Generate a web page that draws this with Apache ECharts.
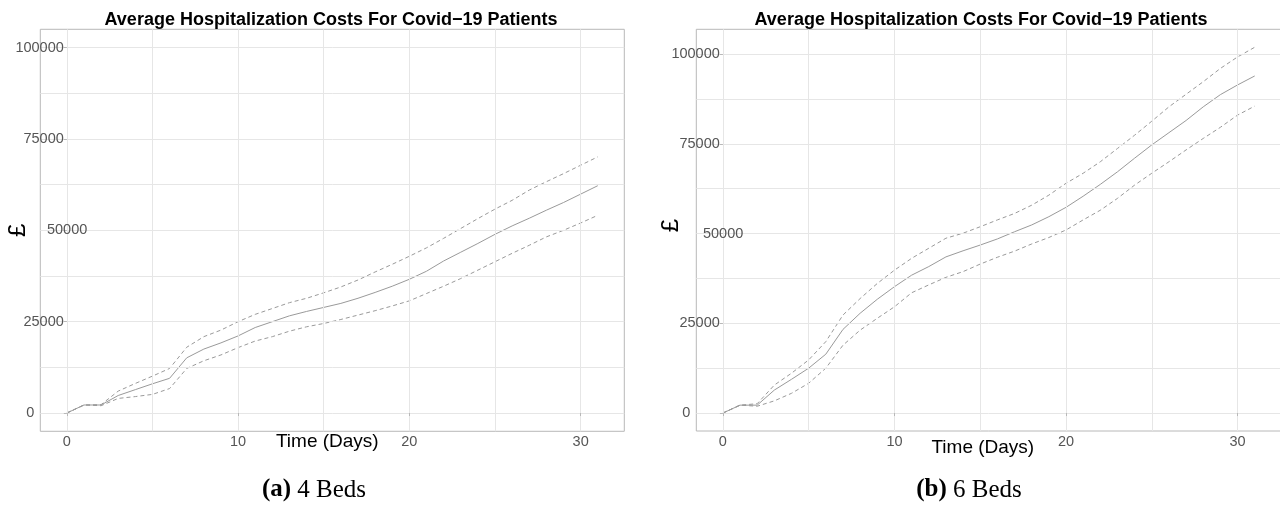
<!DOCTYPE html>
<html>
<head>
<meta charset="utf-8">
<script src="https://cdn.jsdelivr.net/npm/echarts@6/dist/echarts.min.js"></script>
<style>
  html, body { margin: 0; padding: 0; background: #ffffff; }
  #chart { width: 1280px; height: 506px; }
</style>
</head>
<body>
<div id="chart"></div>
<script>
// Simulated average hospitalization cost (GBP) by day, with confidence bands
const days = [0, 1, 2, 3, 4, 5, 6, 7, 8, 9, 10, 11, 12, 13, 14, 15, 16, 17, 18, 19, 20, 21, 22, 23, 24, 25, 26, 27, 28, 29, 30, 31];

const beds4Mean  = [0, 2200, 2200, 4800, 6400, 8000, 9500, 15100, 17500, 19200, 21100, 23400, 25000, 26600, 27800, 28900, 30000, 31400, 33000, 34700, 36600, 38800, 41600, 44000, 46400, 48900, 51200, 53300, 55500, 57600, 59900, 62200];
const beds4Upper = [0, 2200, 2300, 6000, 8100, 10100, 12200, 18000, 20900, 22700, 25000, 27000, 28600, 30200, 31400, 32900, 34500, 36400, 38600, 40700, 42900, 45200, 47800, 50500, 53200, 55800, 58200, 61000, 63300, 65500, 67800, 70100];
const beds4Lower = [0, 2200, 2000, 4000, 4500, 5100, 6700, 12200, 14300, 15900, 17900, 19700, 20900, 22400, 23600, 24500, 25600, 26800, 28000, 29300, 30700, 32700, 34700, 36800, 39100, 41400, 43700, 45900, 48200, 50000, 52000, 54100];

const beds6Mean  = [0, 2200, 2200, 6400, 9400, 12500, 16400, 23300, 27800, 31700, 35200, 38400, 40800, 43500, 45200, 46800, 48500, 50500, 52400, 54700, 57300, 60400, 63700, 67200, 71000, 74700, 78100, 81500, 85300, 88700, 91400, 93900];
const beds6Upper = [0, 2200, 2600, 7800, 11100, 14800, 19900, 27300, 31900, 36100, 39800, 43100, 45900, 48700, 50100, 51900, 53800, 55600, 57900, 60700, 64000, 66800, 70000, 73700, 77400, 81300, 85300, 88800, 92300, 96000, 99200, 101900];
const beds6Lower = [0, 2200, 1900, 3400, 5500, 8300, 12500, 18900, 23100, 26400, 29600, 33500, 35700, 37800, 39400, 41500, 43400, 45100, 47100, 48900, 51000, 53800, 56500, 59800, 63500, 66800, 70000, 73300, 76500, 79600, 83000, 85500];

const xTicks = [0, 10, 20, 30];
const yTicks = [0, 25000, 50000, 75000, 100000];
const xGridValues = [0, 5, 10, 15, 20, 25, 30];
const yGridValues = [0, 12500, 25000, 37500, 50000, 62500, 75000, 87500, 100000];

const titleText = 'Average Hospitalization Costs For Covid\u221219 Patients';
const xName = 'Time (Days)';
const yName = '\u00a3';
const captions = [['(a)', '4 Beds'], ['(b)', '6 Beds']];

const SANS = '"Liberation Sans", Arial, Helvetica, sans-serif';
const SERIF = '"Liberation Serif", "Times New Roman", serif';
const LINE = '#9a9a9a';
const GRID = '#e6e6e6';
const BORDER = '#b8b8b8';
const TICK_TEXT = '#555555';

const panels = [
  { left: 40.3, top: 29.3, width: 584, height: 402, yMin: -5000, yMax: 105000, mean: beds4Mean, upper: beds4Upper, lower: beds4Lower, xNameGap: 1, xNamePad: [0, 10, 0, 0], yNameGap: 10, yNamePad: [0, 0, 0, 0], cx: 331, capX: 314 },
  { left: 696.3, top: 29.3, width: 585, height: 401.7, yMin: -5000, yMax: 106900, mean: beds6Mean, upper: beds6Upper, lower: beds6Lower, xNameGap: 7, xNamePad: [0, 12, 0, 0], yNameGap: 13, yNamePad: [0, 0, 0, 9], cx: 981, capX: 969 }
];

const pairs = (vals) => days.map((d, i) => [d, vals[i]]);

const grid = [], xAxis = [], yAxis = [], series = [], graphic = [];

panels.forEach((p, k) => {
  grid.push({
    left: p.left, top: p.top, width: p.width, height: p.height,
    show: true, borderColor: BORDER, borderWidth: 1, backgroundColor: 'transparent',
    containLabel: false, outerBoundsMode: 'none'
  });
  xAxis.push({
    type: 'value', gridIndex: k, min: -1.55, max: 32.55, z: 5,
    splitLine: { show: false },
    axisLine: { show: false },
    axisTick: { show: true, customValues: xTicks, length: 3, lineStyle: { color: BORDER } },
    axisLabel: { customValues: xTicks, margin: 3, color: TICK_TEXT, fontSize: 14.5, fontFamily: SANS },
    name: xName, nameLocation: 'middle', nameGap: p.xNameGap, nameMoveOverlap: false,
    nameTextStyle: { color: '#000', fontSize: 19, fontFamily: SANS, padding: p.xNamePad }
  });
  yAxis.push({
    type: 'value', gridIndex: k, min: p.yMin, max: p.yMax, z: 5,
    splitLine: { show: false },
    axisLine: { show: false },
    axisTick: { show: true, customValues: yTicks, length: 3, lineStyle: { color: BORDER } },
    axisLabel: {
      customValues: yTicks, margin: -47, align: 'right',
      color: TICK_TEXT, fontSize: 14.5, fontFamily: SANS,
      formatter: (v) => v === 0 ? '{z|0}' : (v === 50000 ? '{m|' + v + '}' : '{n|' + v + '}'),
      rich: {
        z: { padding: [0, 53, 0, 0], color: TICK_TEXT, fontSize: 14.5, fontFamily: SANS },
        m: { padding: [0, 0, 0, 0], color: TICK_TEXT, fontSize: 14.5, fontFamily: SANS },
        n: { padding: [0, 23.5, 0, 0], color: TICK_TEXT, fontSize: 14.5, fontFamily: SANS }
      }
    },
    name: yName, nameLocation: 'middle', nameRotate: 90, nameGap: p.yNameGap, nameMoveOverlap: false,
    nameTextStyle: { color: '#000', fontSize: 24, fontFamily: SANS, padding: p.yNamePad }
  });

  // panel grid lines (major and minor)
  series.push({
    type: 'line', xAxisIndex: k, yAxisIndex: k, data: [], z: 1, silent: true,
    markLine: {
      silent: true, symbol: ['none', 'none'], animation: false,
      label: { show: false },
      lineStyle: { color: GRID, width: 1, type: 'solid' },
      data: xGridValues.map(v => ({ xAxis: v })).concat(yGridValues.map(v => ({ yAxis: v })))
    }
  });

  const base = { type: 'line', xAxisIndex: k, yAxisIndex: k, showSymbol: false, symbol: 'none', z: 3, animation: false, silent: true };
  series.push(Object.assign({}, base, { name: 'mean', data: pairs(p.mean), lineStyle: { color: LINE, width: 1, type: 'solid' } }));
  series.push(Object.assign({}, base, { name: 'upper', data: pairs(p.upper), lineStyle: { color: LINE, width: 1, type: [4, 3] } }));
  series.push(Object.assign({}, base, { name: 'lower', data: pairs(p.lower), lineStyle: { color: LINE, width: 1, type: [4, 3] } }));

  graphic.push({
    type: 'text', x: p.cx, y: 20, silent: true,
    style: { text: titleText, align: 'center', verticalAlign: 'middle', fill: '#000', fontSize: 18, fontWeight: 'bold', fontFamily: SANS }
  });
  graphic.push({
    type: 'text', x: p.capX, y: 490, silent: true,
    style: {
      text: '{b|' + captions[k][0] + '} ' + captions[k][1],
      align: 'center', verticalAlign: 'middle', fill: '#000', fontSize: 25, fontFamily: SERIF,
      rich: { b: { fontWeight: 'bold', fontSize: 25, fontFamily: SERIF, fill: '#000' } }
    }
  });
});

const chart = echarts.init(document.getElementById('chart'), null, { renderer: 'canvas' });
chart.setOption({
  animation: false,
  backgroundColor: '#ffffff',
  grid, xAxis, yAxis, series, graphic
});
</script>
</body>
</html>
